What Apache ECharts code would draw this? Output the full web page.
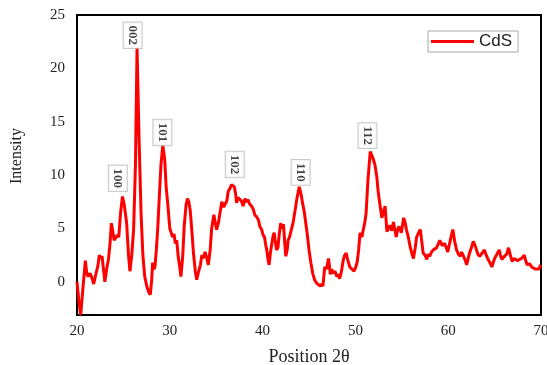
<!DOCTYPE html>
<html>
<head>
<meta charset="utf-8">
<script src="https://cdn.jsdelivr.net/npm/echarts@6/dist/echarts.min.js"></script>
<style>
html,body{margin:0;padding:0;background:#fff;}
#chart{width:547px;height:365px;}
</style>
</head>
<body>
<div id="chart"></div>
<script>
// 2θ positions (degrees)
var twoTheta = [
  20.0, 20.2, 20.4, 20.6, 20.9, 21.05, 21.2, 21.4, 21.6, 21.8,
  22.0, 22.1, 22.25, 22.4, 22.55, 22.7, 22.85, 23.0, 23.2, 23.4,
  23.55, 23.7, 23.85, 24.0, 24.2, 24.35, 24.5, 24.7, 24.9, 25.1,
  25.35, 25.55, 25.7, 25.9, 26.1, 26.3, 26.47, 26.7, 26.9, 27.1,
  27.3, 27.55, 27.75, 27.9, 28.05, 28.15, 28.3, 28.4, 28.55, 28.7,
  28.9, 29.05, 29.25, 29.45, 29.6, 29.8, 30.0, 30.15, 30.3, 30.45,
  30.6, 30.75, 30.9, 31.05, 31.2, 31.4, 31.55, 31.75, 31.9, 32.05,
  32.2, 32.4, 32.55, 32.75, 32.9, 33.05, 33.15, 33.3, 33.45, 33.6,
  33.8, 34.0, 34.15, 34.35, 34.5, 34.75, 34.9, 35.05, 35.25, 35.4,
  35.6, 35.8, 35.95, 36.15, 36.3, 36.5, 36.65, 36.8, 36.95, 37.1,
  37.2, 37.35, 37.55, 37.7, 37.9, 38.1, 38.25, 38.4, 38.6, 38.8,
  39.0, 39.15, 39.35, 39.55, 39.7, 39.9, 40.05, 40.2, 40.35, 40.45,
  40.6, 40.7, 40.85, 41.0, 41.15, 41.25, 41.4, 41.5, 41.65, 41.8,
  41.95, 42.1, 42.25, 42.4, 42.5, 42.65, 42.75, 42.9, 43.1, 43.3,
  43.5, 43.7, 43.95, 44.15, 44.3, 44.5, 44.7, 44.85, 45.0, 45.2,
  45.4, 45.6, 45.8, 46.0, 46.2, 46.35, 46.5, 46.7, 46.9, 47.1,
  47.2, 47.3, 47.45, 47.6, 47.8, 48.0, 48.15, 48.3, 48.5, 48.7,
  48.85, 49.0, 49.2, 49.4, 49.6, 49.85, 50.05, 50.2, 50.35, 50.5,
  50.7, 50.85, 51.0, 51.15, 51.35, 51.6, 51.85, 52.1, 52.3, 52.45,
  52.6, 52.75, 52.85, 53.0, 53.2, 53.4, 53.55, 53.7, 53.9, 54.1,
  54.25, 54.4, 54.55, 54.7, 54.95, 55.2, 55.35, 55.5, 55.7, 55.9,
  56.1, 56.25, 56.45, 56.6, 56.8, 57.0, 57.15, 57.3, 57.5, 57.7,
  57.85, 58.0, 58.2, 58.4, 58.6, 58.75, 58.9, 59.1, 59.35, 59.6,
  59.8, 59.95, 60.15, 60.3, 60.5, 60.7, 60.9, 61.1, 61.3, 61.45,
  61.6, 61.8, 62.0, 62.15, 62.3, 62.5, 62.7, 62.9, 63.05, 63.2,
  63.4, 63.65, 63.9, 64.05, 64.25, 64.5, 64.7, 64.85, 65.0, 65.25,
  65.5, 65.65, 65.8, 65.95, 66.1, 66.3, 66.5, 66.7, 66.9, 67.1,
  67.25, 67.45, 67.6, 67.9, 68.2, 68.35, 68.5, 68.75, 69.0, 69.2,
  69.4, 69.6, 69.8, 69.95
];
// CdS intensity
var intensity = [
  0.0, -1.8, -3.1, -1.0, 2.0, 0.8, 0.5, 0.8, 0.4, -0.2,
  0.6, 0.5, 1.5, 2.5, 2.2, 2.4, 1.2, 0.0, 1.2, 2.2,
  3.5, 5.5, 4.8, 3.9, 3.8, 4.4, 4.2, 6.5, 8.0, 7.2,
  5.5, 2.5, 1.0, 2.5, 4.9, 11.0, 21.9, 13.0, 6.5, 2.5,
  0.5, -0.5, -1.0, -1.2, 0.2, 1.8, 1.2, 1.4, 3.0, 5.0,
  8.5, 11.0, 12.8, 11.5, 9.0, 7.1, 5.0, 4.6, 4.2, 4.5,
  3.6, 3.9, 2.4, 1.5, 0.5, 2.5, 5.2, 7.2, 7.8, 7.5,
  6.7, 4.5, 2.7, 1.0, 0.2, 0.8, 1.1, 1.6, 2.5, 2.2,
  2.8, 2.2, 1.6, 3.0, 4.9, 6.3, 5.5, 4.9, 5.6, 6.4,
  7.5, 7.0, 6.9, 7.6, 8.5, 8.8, 9.1, 9.0, 8.9, 8.2,
  7.4, 7.9, 7.8, 7.6, 7.1, 7.8, 7.5, 7.7, 7.3, 7.1,
  6.8, 6.3, 6.1, 5.8, 5.2, 4.9, 4.4, 4.2, 3.4, 3.0,
  2.0, 1.6, 2.8, 3.6, 4.4, 4.6, 3.6, 3.0, 3.2, 4.5,
  5.5, 5.0, 5.4, 3.5, 2.4, 3.0, 3.9, 4.2, 4.9, 5.6,
  6.7, 7.8, 8.9, 8.2, 7.4, 6.5, 5.2, 4.2, 3.0, 1.8,
  0.8, 0.2, -0.1, -0.2, -0.4, -0.2, -0.4, 1.4, 1.2, 2.2,
  1.5, 0.7, 1.2, 0.8, 1.0, 0.5, 0.7, 0.3, 1.0, 2.1,
  2.5, 2.7, 2.0, 1.4, 1.5, 1.0, 1.4, 1.9, 3.0, 4.6,
  4.2, 4.9, 5.5, 6.4, 9.5, 12.2, 11.7, 11.0, 9.9, 8.5,
  7.5, 6.6, 6.0, 6.5, 7.1, 4.7, 5.0, 5.3, 4.8, 5.6,
  4.9, 4.2, 4.9, 5.2, 4.6, 6.0, 5.6, 4.9, 4.2, 3.3,
  2.6, 2.2, 3.2, 4.2, 4.6, 4.9, 3.8, 2.7, 2.5, 2.1,
  2.6, 2.4, 2.8, 3.0, 2.9, 3.2, 3.5, 3.9, 3.4, 3.6,
  3.2, 2.8, 3.6, 4.2, 4.9, 3.8, 3.0, 2.6, 2.4, 2.8,
  2.5, 2.1, 1.6, 2.2, 2.7, 3.2, 3.8, 3.4, 3.0, 2.6,
  2.4, 2.7, 3.0, 2.6, 2.2, 1.8, 1.4, 1.8, 2.2, 2.6,
  3.0, 2.4, 2.1, 2.3, 2.4, 2.6, 3.2, 2.5, 1.9, 2.2,
  2.1, 2.0, 1.9, 2.2, 2.5, 2.0, 1.6, 1.7, 1.4, 1.5,
  1.2, 1.1, 1.2, 1.6
];
// Peak (hkl) annotations
var peakLabels = ['100', '002', '101', '102', '110', '112'];
var peakX = [24.4, 26.0, 29.2, 37.0, 44.1, 51.3];
var peakY = [9.7, 23.1, 14.0, 11.0, 10.25, 13.7];
// Axis tick values
var xTicks = [20, 30, 40, 50, 60, 70];
var yTicks = [0, 5, 10, 15, 20, 25];

var lineData = twoTheta.map(function (t, i) { return [t, intensity[i]]; });
var peakData = peakX.map(function (x, i) { return { value: [x, peakY[i]], name: peakLabels[i] }; });

var serif = 'Liberation Serif';
var chart = echarts.init(document.getElementById('chart'), null, { renderer: 'canvas' });
chart.setOption({
  animation: false,
  backgroundColor: '#fff',
  grid: {
    left: 77, top: 15, right: 6, bottom: 50,
    outerBoundsMode: 'none', containLabel: false,
    show: true, borderColor: '#000', borderWidth: 2, backgroundColor: 'transparent'
  },
  legend: {
    data: ['CdS'],
    left: 428, top: 31,
    orient: 'horizontal',
    icon: 'rect', itemWidth: 43, itemHeight: 3, itemGap: 4,
    padding: [2, 6, 2, 3],
    borderColor: '#aaa', borderWidth: 1, backgroundColor: '#fff',
    textStyle: { fontFamily: 'Liberation Sans', fontSize: 17, color: '#222', padding: [0, 0, 0, 0] }
  },
  xAxis: {
    type: 'value', min: 20, max: 70, interval: 10,
    name: 'Position 2θ', nameLocation: 'middle', nameGap: 33,
    nameTextStyle: { fontFamily: serif, fontSize: 18, color: '#222' },
    axisLine: { show: false },
    axisTick: { show: false },
    splitLine: { show: false },
    axisLabel: {
      customValues: xTicks,
      fontFamily: serif, fontSize: 15, color: '#222', margin: 9
    }
  },
  yAxis: {
    type: 'value', min: -3.1, max: 25,
    name: 'Intensity', nameLocation: 'middle', nameGap: 52,
    nameTextStyle: { fontFamily: serif, fontSize: 16, color: '#222', padding: [0, 0, 0, 18] },
    axisLine: { show: false },
    axisTick: { show: false },
    splitLine: { show: false },
    axisLabel: {
      customValues: yTicks,
      fontFamily: serif, fontSize: 15, color: '#222', margin: 12
    }
  },
  series: [
    {
      name: 'CdS', type: 'line', data: lineData,
      showSymbol: false, symbol: 'none', smooth: false,
      lineStyle: { color: '#ff0000', width: 3 },
      itemStyle: { color: '#ff0000' },
      clip: true, z: 3
    },
    {
      name: 'peaks', type: 'scatter', data: peakData,
      symbol: 'rect', symbolSize: 1, silent: true,
      itemStyle: { color: 'rgba(0,0,0,0)' },
      z: 5,
      label: {
        show: true, position: 'inside', rotate: -90,
        formatter: function (p) { return p.name; },
        fontFamily: serif, fontWeight: 'bold', fontSize: 13, color: '#111',
        backgroundColor: '#fff', borderColor: '#bbb', borderWidth: 1,
        padding: [3, 3, 2, 3]
      }
    }
  ]
});
</script>
</body>
</html>
